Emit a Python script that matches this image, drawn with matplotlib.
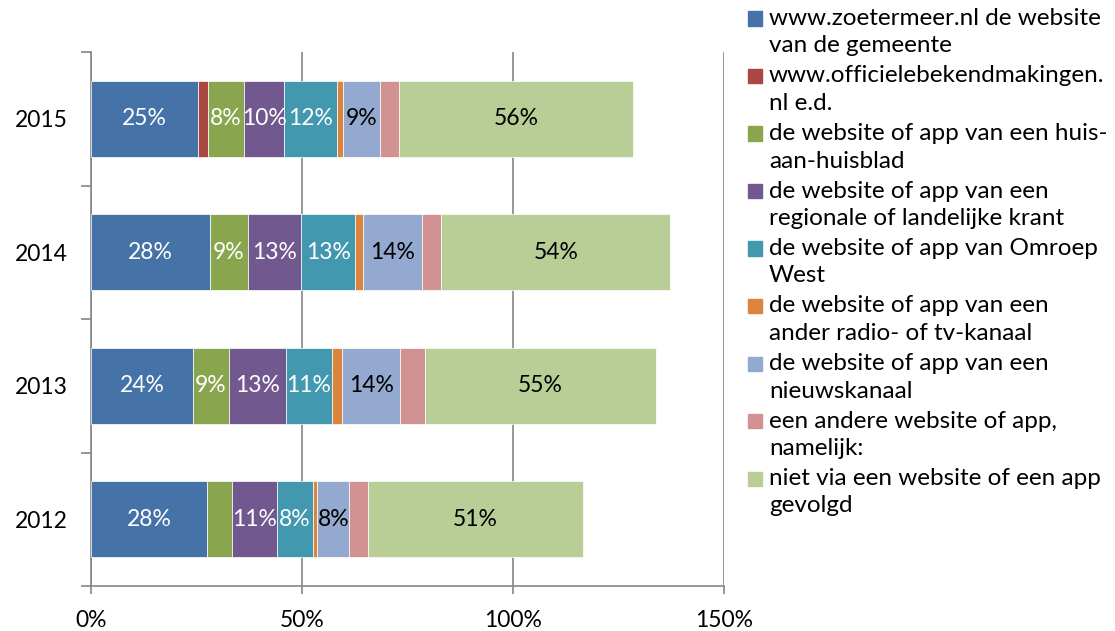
import numpy as np
import matplotlib
matplotlib.use('Agg')
import matplotlib.pyplot as plt
from matplotlib.patches import Rectangle

plt.rcParams['font.family'] = ['Lato', 'DejaVu Sans']

years = ['2012', '2013', '2014', '2015']

series_names = [
    'www.zoetermeer.nl de website\nvan de gemeente',
    'www.officielebekendmakingen.\nnl e.d.',
    'de website of app van een huis-\naan-huisblad',
    'de website of app van een\nregionale of landelijke krant',
    'de website of app van Omroep\nWest',
    'de website of app van een\nander radio- of tv-kanaal',
    'de website of app van een\nnieuwskanaal',
    'een andere website of app,\nnamelijk:',
    'niet via een website of een app\ngevolgd',
]

# values per series, in order 2012, 2013, 2014, 2015 (percent)
gemeente = [27.6, 24.1, 28.2, 25.3]
officiele = [0.0, 0.0, 0.0, 2.5]
huisblad = [5.8, 8.7, 9.0, 8.4]
krant = [10.7, 13.3, 12.6, 9.6]
omroep_west = [8.4, 10.9, 12.8, 12.4]
radio_tv = [1.1, 2.5, 1.9, 1.6]
nieuwskanaal = [7.6, 13.8, 14.0, 8.8]
andere = [4.4, 5.8, 4.5, 4.3]
niet_gevolgd = [51.1, 54.9, 54.3, 55.6]

colors = ['#4572A7', '#AA4643', '#89A54E', '#71588F', '#4198AF',
          '#DB843D', '#93A9CF', '#D19392', '#B9CD96']
label_colors = ['white', 'white', 'white', 'white', 'white',
                'white', 'black', 'black', 'black']

data = [gemeente, officiele, huisblad, krant, omroep_west,
        radio_tv, nieuwskanaal, andere, niet_gevolgd]

W, H = 1115, 631
fig = plt.figure(figsize=(W / 100, H / 100), dpi=100)
ax = fig.add_axes([91 / W, 1 - 586 / H, (724 - 91) / W, (586 - 52) / H])

y = np.arange(len(years))
left = np.zeros(len(years))
for vals, col, lc in zip(data, colors, label_colors):
    vals = np.array(vals)
    ax.barh(y, vals, left=left, height=0.57, color=col, edgecolor='white',
            linewidth=0.5, zorder=3)
    for yi, (l, v) in enumerate(zip(left, vals)):
        if v >= 7:
            ax.text(l + v / 2, yi, '%d%%' % round(v), ha='center', va='center',
                    color=lc, fontsize=16.5, zorder=4)
    left += vals

ax.set_xlim(0, 150)
ax.set_ylim(-0.5, len(years) - 0.5)
ax.set_xticks([0, 50, 100, 150])
ax.set_xticklabels(['0%', '50%', '100%', '150%'], fontsize=16.5)
ax.set_yticks(y)
ax.set_yticklabels(years, fontsize=16.5)
ax.set_yticks(np.arange(len(years) + 1) - 0.5, minor=True)
ax.tick_params(axis='y', which='major', length=0, pad=17)
ax.tick_params(axis='y', which='minor', length=7, color='#868686', width=1.2)
ax.tick_params(axis='x', length=6, color='#868686', width=1.2, pad=11)
ax.grid(axis='x', color='#868686', linewidth=1.2, zorder=0)
for s in ['top', 'right']:
    ax.spines[s].set_visible(False)
for s in ['left', 'bottom']:
    ax.spines[s].set_color('#868686')
    ax.spines[s].set_linewidth(1.2)

# legend drawn by hand so the square lines up with the first text line
for i, (name, col) in enumerate(zip(series_names, colors)):
    yc = 18.5 + i * 57.5
    fig.patches.append(Rectangle((748 / W, 1 - (yc + 7) / H), 14 / W, 14 / H,
                                 transform=fig.transFigure, color=col))
    lines = name.split('\n')
    for j, line in enumerate(lines):
        fig.text(769 / W, 1 - (yc + j * 27.5) / H, line, ha='left',
                 va='center', fontsize=17.5)

fig.savefig('out.png', dpi=100)
